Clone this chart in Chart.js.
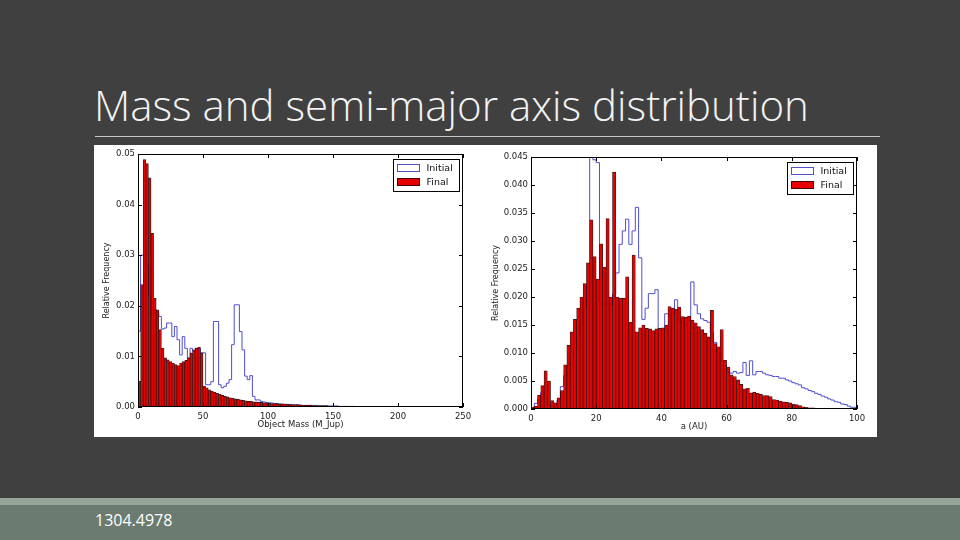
<!DOCTYPE html>
<html>
<head>
<meta charset="utf-8">
<script src="https://cdn.jsdelivr.net/npm/chart.js@4.4.0/dist/chart.umd.min.js"></script>
<style>
  html, body { margin: 0; padding: 0; }
  body { width: 960px; height: 540px; background: #404040; position: relative; overflow: hidden; font-family: "Open Sans", sans-serif; }
  #title { position: absolute; left: 94px; top: 84px; font-size: 42px; font-weight: 300; color: #f2f2f2; line-height: 1; white-space: nowrap; }
  #rule { position: absolute; left: 95px; top: 136px; width: 785px; height: 1px; background: #c8c8c8; }
  #panel { position: absolute; left: 94px; top: 145px; width: 783px; height: 292px; background: #fff; }
  #massCanvas { position: absolute; left: 0; top: 0; }
  #axisCanvas { position: absolute; left: 391px; top: 0; }
  #strip { position: absolute; left: 0; top: 498px; width: 960px; height: 7px; background: #97a49a; }
  #band { position: absolute; left: 0; top: 505px; width: 960px; height: 35px; background: #6b7b6f; }
  #ref { position: absolute; left: 95px; top: 509px; font-size: 16px; color: #fff; }
</style>
</head>
<body>
<div id="title">Mass and semi-major axis distribution</div>
<div id="rule"></div>
<div id="panel">
  <canvas id="massCanvas" width="391" height="292"></canvas>
  <canvas id="axisCanvas" width="392" height="292"></canvas>
</div>
<div id="strip"></div>
<div id="band"></div>
<div id="ref">1304.4978</div>
<script>
// left panel: object mass, bins of 2 M_Jup from 0 to 250
const massBinWidth = 2;
const massFinal = [
  0.0051, 0.0242, 0.0489, 0.0481, 0.0453, 0.0343, 0.0215, 0.0192, 0.0153, 0.0116,
  0.0097, 0.0093, 0.0090, 0.0087, 0.0084, 0.0082, 0.0087, 0.0090, 0.0092, 0.0097,
  0.0107, 0.0113, 0.0116, 0.0118, 0.0107, 0.0041, 0.0038, 0.0034, 0.0031, 0.0029,
  0.0027, 0.0025, 0.0023, 0.0021, 0.0020, 0.0018, 0.0017, 0.0016, 0.0015, 0.0014,
  0.0013, 0.0012, 0.0011, 0.0011, 0.0010, 0.0010, 0.0009, 0.0009, 0.0008, 0.0008,
  0.0008, 0.0007, 0.0007, 0.0007, 0.0006, 0.0006, 0.0006, 0.0006, 0.0005, 0.0005,
  0.0005, 0.0005, 0.0004, 0.0004, 0.0004, 0.0004, 0.0004, 0.0003, 0.0003, 0.0003,
  0.0003, 0.0003, 0.0003, 0.0002, 0.0002, 0.0002, 0.0002, 0.0002, 0.0002, 0.0002,
  0.0002, 0.0001, 0.0002, 0.0001, 0.0001, 0.0001, 0.0001, 0.0001, 0.0001, 0.0001,
  0.0001, 0.0001, 0.0001, 0.0001, 0.0001, 0.00005, 0.00005, 0.00005, 0.00005, 0.00005,
  0.00005, 0.00005, 0.00005, 0.00005, 0.00005, 0.00005, 0.00005, 0, 0, 0,
  0, 0, 0, 0, 0, 0, 0, 0, 0, 0,
  0, 0, 0, 0, 0
];
const massInitial = [
  0.0030, 0.0150, 0.0300, 0.0300, 0.0280, 0.0220, 0.0180, 0.0192, 0.0187, 0.0179,
  0.0154, 0.0156, 0.0166, 0.0166, 0.0139, 0.0159, 0.0133, 0.0103, 0.0139, 0.0116,
  0.0097, 0.0116, 0.0110, 0.0116, 0.0116, 0.0107, 0.0107, 0.0044, 0.0044, 0.0050,
  0.0169, 0.0169, 0.0044, 0.0038, 0.0041, 0.0047, 0.0054, 0.0123, 0.0202, 0.0202,
  0.0149, 0.0113, 0.0061, 0.0054, 0.0062, 0.0021, 0.0014, 0.0014, 0.0011, 0.0010,
  0.0009, 0.0008, 0.0008, 0.0007, 0.0007, 0.0006, 0.0006, 0.0005, 0.0005, 0.0005,
  0.0004, 0.0004, 0.0004, 0.0004, 0.0003, 0.0003, 0.0003, 0.0003, 0.0003, 0.0003,
  0.0002, 0.0002, 0.0002, 0.0002, 0.0002, 0.0002, 0.0002, 0.0002, 0.0001, 0.0001,
  0.0001, 0.0001, 0.0001, 0.0001, 0.0001, 0.0001, 0.0001, 0.0001, 0.0001, 0.0001,
  0.0001, 0.0001, 0.0001, 0.0001, 0.0001, 0.0001, 0.0001, 0.00005, 0.00005, 0.00005,
  0.00005, 0.00005, 0.00005, 0.00005, 0.00005, 0.00005, 0.00005, 0.00005, 0, 0,
  0, 0, 0, 0, 0, 0, 0, 0, 0, 0,
  0, 0, 0, 0, 0
];
const massTicks = [0, 50, 100, 150, 200, 250];
const massFreqTicks = [0, 0.01, 0.02, 0.03, 0.04, 0.05];

// right panel: semi-major axis, bins of 1 AU from 0 to 100
const axisBinWidth = 1;
const axisFinal = [
  0.0003, 0.0005, 0.0025, 0.0042, 0.0068, 0.0050, 0.0015, 0.0011, 0.0020, 0.0033,
  0.0079, 0.0114, 0.0138, 0.0160, 0.0180, 0.0200, 0.0224, 0.0261, 0.0338, 0.0272,
  0.0232, 0.0295, 0.0253, 0.0340, 0.0200, 0.0423, 0.0200, 0.0198, 0.0198, 0.0236,
  0.0155, 0.0275, 0.0138, 0.0145, 0.0150, 0.0144, 0.0143, 0.0140, 0.0143, 0.0144,
  0.0145, 0.0150, 0.0183, 0.0180, 0.0178, 0.0182, 0.0165, 0.0164, 0.0166, 0.0159,
  0.0154, 0.0147, 0.0142, 0.0135, 0.0129, 0.0176, 0.0117, 0.0111, 0.0142, 0.0087,
  0.0075, 0.0061, 0.0058, 0.0052, 0.0044, 0.0036, 0.0037, 0.0029, 0.0030, 0.0028,
  0.0026, 0.0024, 0.0024, 0.0022, 0.0017, 0.0016, 0.0014, 0.0013, 0.0012, 0.0011,
  0.0009, 0.0008, 0.0006, 0.0004, 0.0003, 0.0002, 0.0002, 0.0001, 0.0001, 0.0001,
  0.0001, 0, 0, 0, 0, 0, 0, 0, 0, 0
];
const axisInitial = [
  0.0001, 0.0002, 0.0010, 0.0018, 0.0030, 0.0022, 0.0007, 0.0005, 0.0010, 0.0016,
  0.0040, 0.0060, 0.0075, 0.0090, 0.0110, 0.0130, 0.0150, 0.0180, 0.0220, 0.0470,
  0.0445, 0.0440, 0.0190, 0.0185, 0.0190, 0.0185, 0.0205, 0.0243, 0.0294, 0.0318,
  0.0339, 0.0294, 0.0318, 0.0360, 0.0270, 0.0160, 0.0180, 0.0206, 0.0206, 0.0213,
  0.0140, 0.0140, 0.0170, 0.0170, 0.0170, 0.0195, 0.0155, 0.0155, 0.0150, 0.0150,
  0.0227, 0.0186, 0.0170, 0.0161, 0.0158, 0.0155, 0.0136, 0.0119, 0.0104, 0.0085,
  0.0079, 0.0067, 0.0064, 0.0067, 0.0064, 0.0065, 0.0083, 0.0060, 0.0086, 0.0061,
  0.0067, 0.0067, 0.0064, 0.0061, 0.0060, 0.0058, 0.0058, 0.0055, 0.0055, 0.0052,
  0.0050, 0.0047, 0.0045, 0.0043, 0.0038, 0.0036, 0.0033, 0.0031, 0.0028, 0.0026,
  0.0023, 0.0021, 0.0018, 0.0016, 0.0013, 0.0012, 0.0009, 0.0008, 0.0005, 0.0003
];
const axisTicks = [0, 20, 40, 60, 80, 100];
const axisFreqTicks = [0, 0.005, 0.01, 0.015, 0.02, 0.025, 0.03, 0.035, 0.04, 0.045];

const tickFont = { family: 'DejaVu Sans', size: 8.5 };

// matplotlib style box with inward ticks on all four sides
const framePlugin = {
  id: 'frame',
  afterDatasetsDraw(chart) {
    const { ctx, chartArea: a, scales: { x, y } } = chart;
    ctx.save();
    ctx.strokeStyle = '#000';
    ctx.lineWidth = 1;
    ctx.beginPath();
    x.ticks.forEach(t => {
      const px = Math.round(x.getPixelForValue(t.value)) + 0.5;
      ctx.moveTo(px, a.bottom); ctx.lineTo(px, a.bottom - 4);
      ctx.moveTo(px, a.top); ctx.lineTo(px, a.top + 4);
    });
    y.ticks.forEach(t => {
      const py = Math.round(y.getPixelForValue(t.value)) + 0.5;
      ctx.moveTo(a.left, py); ctx.lineTo(a.left + 4, py);
      ctx.moveTo(a.right, py); ctx.lineTo(a.right - 4, py);
    });
    ctx.stroke();
    ctx.strokeRect(Math.round(a.left) + 0.5, Math.round(a.top) + 0.5, Math.round(a.width) - 1, Math.round(a.height) - 1);
    ctx.restore();
  }
};

// legend box inside the top right corner
const boxLegendPlugin = {
  id: 'boxLegend',
  afterDraw(chart) {
    const { ctx, chartArea: a } = chart;
    const bw = 66, bh = 32;
    const bx = Math.round(a.right - bw - 4) + 0.5, by = Math.round(a.top + 5) + 0.5;
    ctx.save();
    ctx.fillStyle = '#fff';
    ctx.fillRect(bx, by, bw, bh);
    ctx.strokeStyle = '#000';
    ctx.lineWidth = 1;
    ctx.strokeRect(bx, by, bw, bh);
    ctx.font = '9.5px "DejaVu Sans"';
    ctx.textBaseline = 'middle';
    chart.data.datasets.forEach((ds, i) => {
      const ry = by + 8 + i * 14;
      if (ds.type === 'line') {
        ctx.fillStyle = '#fff';
        ctx.fillRect(bx + 4, ry - 3, 22, 7);
        ctx.strokeStyle = ds.borderColor;
        ctx.strokeRect(bx + 4, ry - 3, 22, 7);
      } else {
        ctx.fillStyle = ds.backgroundColor;
        ctx.fillRect(bx + 4, ry - 3, 22, 7);
        ctx.strokeStyle = '#400';
        ctx.strokeRect(bx + 4, ry - 3, 22, 7);
      }
      ctx.fillStyle = '#111';
      ctx.fillText(ds.label, bx + 33, ry + 1);
    });
    ctx.restore();
  }
};

function makeHist(canvasId, binWidth, finals, initials, xTicks, yTicks, yMax, xTitle, yDigits, box) {
  const bars = finals.map((v, i) => ({ x: (i + 0.5) * binWidth, y: v }));
  const steps = [{ x: 0, y: 0 }];
  initials.forEach((v, i) => steps.push({ x: i * binWidth, y: v }));
  steps.push({ x: initials.length * binWidth, y: initials[initials.length - 1] });
  steps.push({ x: initials.length * binWidth, y: 0 });
  const xMax = initials.length * binWidth;

  return new Chart(document.getElementById(canvasId), {
    type: 'bar',
    data: {
      datasets: [
        {
          type: 'line', label: 'Initial', data: steps, stepped: 'after',
          borderColor: '#4f4fd0', borderWidth: 1, pointRadius: 0, fill: false, order: 2
        },
        {
          type: 'bar', label: 'Final', data: bars,
          backgroundColor: '#e80000', borderColor: 'rgba(45,0,0,0.9)', borderWidth: 0.85,
          borderSkipped: false, barPercentage: 1, categoryPercentage: 1, order: 1
        }
      ]
    },
    options: {
      responsive: false,
      animation: false,
      layout: { padding: { left: 0, right: box.right, top: box.top, bottom: 0 } },
      plugins: { legend: { display: false }, tooltip: { enabled: false } },
      scales: {
        x: {
          type: 'linear', min: 0, max: xMax, offset: false,
          grid: { display: false, drawTicks: false, offset: false },
          border: { display: false },
          afterBuildTicks: s => { s.ticks = xTicks.map(v => ({ value: v })); },
          afterFit: s => { s.height = box.bottom; },
          ticks: { font: tickFont, color: '#222', padding: 5, maxRotation: 0 },
          title: { display: true, text: xTitle, font: { family: 'DejaVu Sans', size: 8.5 }, color: '#222', padding: { top: 0, bottom: box.titlePad } }
        },
        y: {
          min: 0, max: yMax,
          grid: { display: false, drawTicks: false },
          border: { display: false },
          afterBuildTicks: s => { s.ticks = yTicks.map(v => ({ value: v })); },
          afterFit: s => { s.width = box.left; },
          ticks: { font: tickFont, color: '#222', padding: 3, callback: v => Number(v).toFixed(yDigits) },
          title: { display: true, text: 'Relative Frequency', font: { family: 'DejaVu Sans', size: 8 }, color: '#222', padding: { top: box.yTitlePad, bottom: 0 } }
        }
      }
    },
    plugins: [framePlugin, boxLegendPlugin]
  });
}

makeHist('massCanvas', massBinWidth, massFinal, massInitial, massTicks, massFreqTicks, 0.05,
  'Object Mass (M_Jup)', 2, { left: 44, right: 22, top: 9, bottom: 30, titlePad: 7, yTitlePad: 8 });
makeHist('axisCanvas', axisBinWidth, axisFinal, axisInitial, axisTicks, axisFreqTicks, 0.045,
  'a (AU)', 3, { left: 46, right: 20, top: 12, bottom: 28, titlePad: 5, yTitlePad: 6 });
</script>
</body>
</html>
